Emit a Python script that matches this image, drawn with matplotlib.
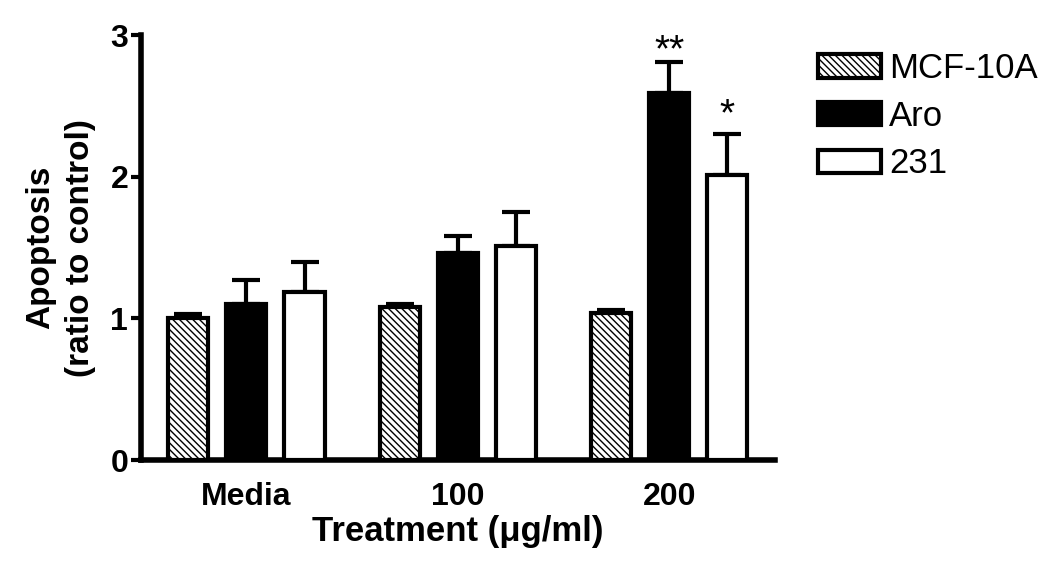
import numpy as np
import matplotlib.pyplot as plt

plt.rcParams['font.family'] = ['Liberation Sans', 'DejaVu Sans']
plt.rcParams['hatch.linewidth'] = 1.0
plt.rcParams['hatch.color'] = '#444444'

groups = ['Media', '100', '200']
series = ['MCF-10A', 'Aro', '231']
mcf = [1.00, 1.08, 1.04]
mcf_err = [0.03, 0.02, 0.02]
aro = [1.10, 1.46, 2.59]
aro_err = [0.17, 0.12, 0.22]
c231 = [1.19, 1.51, 2.01]
c231_err = [0.21, 0.24, 0.29]
stars = ['', '', '**']
stars_231 = ['', '', '*']

fig = plt.figure(figsize=(10.5, 5.78), dpi=100)
ax = fig.add_axes([0.134, 0.204, 0.604, 0.735])

x = np.arange(len(groups))
off = 0.275
w = 0.19
vals = [mcf, aro, c231]
errs = [mcf_err, aro_err, c231_err]
faces = ['white', 'black', 'white']
hatches = ['\\\\\\\\\\', None, None]

for i in range(3):
    ax.bar(x + (i - 1) * off, vals[i], w, color=faces[i], edgecolor='black',
           linewidth=3, hatch=hatches[i], label=series[i], zorder=3)
    ax.errorbar(x + (i - 1) * off, vals[i], yerr=[np.zeros(3), errs[i]],
                fmt='none', ecolor='black', elinewidth=3, capsize=10,
                capthick=3, zorder=2)

# significance marks
for j in range(3):
    if stars[j]:
        ax.text(x[j], aro[j] + aro_err[j] - 0.05, stars[j], ha='center',
                va='bottom', fontsize=28)
    if stars_231[j]:
        ax.text(x[j] + off, c231[j] + c231_err[j] + 0.01, stars_231[j],
                ha='center', va='bottom', fontsize=28)

ax.set_xlim(-0.5, 2.5)
ax.set_ylim(0, 3)
ax.set_yticks([0, 1, 2, 3])
ax.set_xticks(x)
ax.set_xticklabels(groups, fontsize=23, fontweight='bold')
ax.tick_params(axis='y', labelsize=23, width=3, length=7, direction='out',
               pad=2)
for t in ax.get_yticklabels():
    t.set_fontweight('bold')
ax.tick_params(axis='x', length=0, pad=16)
ax.spines['top'].set_visible(False)
ax.spines['right'].set_visible(False)
ax.spines['left'].set_linewidth(4)
ax.spines['bottom'].set_linewidth(4)

ax.set_ylabel('Apoptosis\n(ratio to control)', fontsize=24, fontweight='bold',
              linespacing=1.4, labelpad=10)
ax.set_xlabel('Treatment (\u03bcg/ml)', fontsize=25, fontweight='bold',
              labelpad=2)

leg = ax.legend(loc='upper left', bbox_to_anchor=(1.068, 0.96), frameon=False,
                fontsize=25, handlelength=1.8, handleheight=0.65,
                labelspacing=0.42, handletextpad=0.25, borderpad=0,
                borderaxespad=0)

plt.savefig('out.png', dpi=100)
